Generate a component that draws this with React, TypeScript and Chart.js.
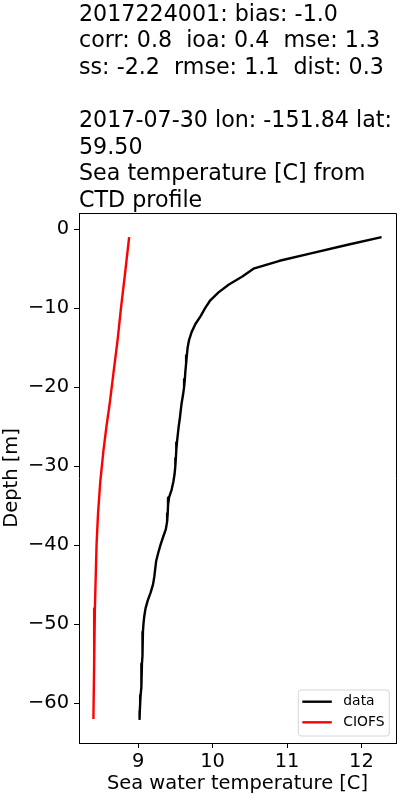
import React, { useEffect, useRef } from "react";
import { Chart, registerables } from "chart.js";

Chart.register(...registerables);

const FONT = "DejaVu Sans";

const titleLines = [
  "2017224001: bias: -1.0",
  "corr: 0.8  ioa: 0.4  mse: 1.3",
  "ss: -2.2  rmse: 1.1  dist: 0.3",
  "",
  "2017-07-30 lon: -151.84 lat:",
  "59.50",
  "Sea temperature [C] from",
  "CTD profile",
];

const xAxisTitle = "Sea water temperature [C]";
const yAxisTitle = "Depth [m]";
const xTickValues = [9, 10, 11, 12];
const yTickValues = [0, -10, -20, -30, -40, -50, -60];
const seriesNames = ["data", "CIOFS"];
const seriesColors = ["#000000", "#ff0000"];

const obsDepth = [
  -1, -2, -3, -4, -5, -6, -7, -8, -9, -10, -11, -12, -13, -14, -15, -16, -17, -18, -19, -20,
  -21, -22, -23, -24, -25, -26, -27, -28, -29, -30, -31, -32, -33, -34, -35, -36, -37, -38, -39, -40,
  -41, -42, -43, -44, -45, -46, -47, -48, -49, -50, -51, -52, -53, -54, -55, -56, -57, -58, -59, -60,
  -61, -62,
];
const obsTemp = [
  12.27, 11.8, 11.35, 10.9, 10.55, 10.4, 10.22, 10.08, 9.97, 9.9, 9.84, 9.77, 9.72, 9.685, 9.665, 9.655, 9.645, 9.635, 9.628, 9.618,
  9.603, 9.585, 9.572, 9.56, 9.545, 9.533, 9.522, 9.513, 9.507, 9.5, 9.49, 9.473, 9.45, 9.415, 9.402, 9.398, 9.39, 9.372, 9.335, 9.3,
  9.27, 9.243, 9.23, 9.218, 9.2, 9.168, 9.13, 9.1, 9.083, 9.072, 9.065, 9.062, 9.06, 9.055, 9.052, 9.048, 9.044, 9.04, 9.034, 9.028,
  9.023, 9.02,
];

const modelDepth = [-1, -6, -10, -14, -18, -22, -25, -28, -32, -36, -40, -48, -55, -62];
const modelTemp = [8.88, 8.82, 8.77, 8.725, 8.672, 8.62, 8.575, 8.535, 8.492, 8.462, 8.442, 8.42, 8.41, 8.4];

const fmt = (v: number) => (v < 0 ? "\u2212" + String(Math.abs(v)) : String(v));

export default function App() {
  const ref = useRef<HTMLCanvasElement | null>(null);

  useEffect(() => {
    const canvas = ref.current;
    if (!canvas) return;

    const allT = obsTemp.concat(modelTemp);
    const allD = obsDepth.concat(modelDepth);
    const tMin = Math.min(...allT), tMax = Math.max(...allT);
    const dMin = Math.min(...allD), dMax = Math.max(...allD);
    const tPad = (tMax - tMin) * 0.05;
    const dPad = (dMax - dMin) * 0.05;

    const decor = {
      id: "decor",
      afterDraw(chart: any) {
        const { ctx, chartArea } = chart;
        const { left, right, top, bottom } = chartArea;
        ctx.save();
        // frame (top / right spines)
        ctx.strokeStyle = "#000";
        ctx.lineWidth = 1;
        ctx.beginPath();
        ctx.moveTo(left, Math.round(top) + 0.5);
        ctx.lineTo(Math.round(right) + 0.5, Math.round(top) + 0.5);
        ctx.lineTo(Math.round(right) + 0.5, bottom);
        ctx.stroke();

        // title
        ctx.fillStyle = "#000";
        ctx.font = `22.2px "${FONT}"`;
        ctx.textAlign = "left";
        ctx.textBaseline = "alphabetic";
        titleLines.forEach((line, i) => {
          if (line) ctx.fillText(line, left, 20.8 + 26.6 * i);
        });

        // legend
        const bx = right - 97.7;
        const by = bottom - 53;
        const bw = 91;
        const bh = 46;
        const r = 3;
        ctx.beginPath();
        ctx.moveTo(bx + r, by);
        ctx.lineTo(bx + bw - r, by);
        ctx.quadraticCurveTo(bx + bw, by, bx + bw, by + r);
        ctx.lineTo(bx + bw, by + bh - r);
        ctx.quadraticCurveTo(bx + bw, by + bh, bx + bw - r, by + bh);
        ctx.lineTo(bx + r, by + bh);
        ctx.quadraticCurveTo(bx, by + bh, bx, by + bh - r);
        ctx.lineTo(bx, by + r);
        ctx.quadraticCurveTo(bx, by, bx + r, by);
        ctx.closePath();
        ctx.fillStyle = "rgba(255,255,255,0.8)";
        ctx.fill();
        ctx.strokeStyle = "rgba(204,204,204,0.8)";
        ctx.lineWidth = 1;
        ctx.stroke();

        ctx.font = `13.9px "${FONT}"`;
        ctx.textBaseline = "middle";
        seriesNames.forEach((name, i) => {
          const y = by + 11.7 + 20.6 * i;
          ctx.strokeStyle = seriesColors[i];
          ctx.lineWidth = 2.4;
          ctx.beginPath();
          ctx.moveTo(bx + 4, y);
          ctx.lineTo(bx + 33.5, y);
          ctx.stroke();
          ctx.fillStyle = "#000";
          ctx.fillText(name, bx + 45, y);
        });
        ctx.restore();
      },
    };

    const chart = new Chart(canvas, {
      type: "line",
      data: {
        datasets: [
          {
            label: seriesNames[0],
            data: obsDepth.map((d, i) => ({ x: obsTemp[i], y: d })),
            borderColor: seriesColors[0],
            backgroundColor: seriesColors[0],
            borderWidth: 2.4,
            pointRadius: 0,
            tension: 0,
            fill: false,
            borderJoinStyle: "round",
          },
          {
            label: seriesNames[1],
            data: modelDepth.map((d, i) => ({ x: modelTemp[i], y: d })),
            borderColor: seriesColors[1],
            backgroundColor: seriesColors[1],
            borderWidth: 2.4,
            pointRadius: 0,
            tension: 0,
            fill: false,
            borderJoinStyle: "round",
          },
        ],
      },
      options: {
        animation: false,
        responsive: false,
        devicePixelRatio: 1,
        layout: { padding: { top: 213, right: 4, left: 0, bottom: 0 } },
        plugins: {
          legend: { display: false },
          title: { display: false },
          tooltip: { enabled: false },
        },
        scales: {
          x: {
            type: "linear",
            position: "bottom",
            min: tMin - tPad,
            max: tMax + tPad,
            afterBuildTicks: (s: any) => {
              s.ticks = xTickValues.map((v) => ({ value: v }));
            },
            afterFit: (s: any) => {
              s.height = 57;
            },
            grid: {
              display: true,
              drawOnChartArea: false,
              drawTicks: true,
              tickLength: 5,
              tickColor: "#000",
              tickWidth: 1,
            },
            border: { display: true, color: "#000", width: 1 },
            ticks: {
              color: "#000",
              font: { family: FONT, size: 19.44 },
              padding: 2,
              maxRotation: 0,
              autoSkip: false,
              callback: (v: any) => fmt(Number(v)),
            },
            title: {
              display: true,
              text: xAxisTitle,
              color: "#000",
              font: { family: FONT, size: 19.44 },
              padding: { top: 0, bottom: 4 },
            },
          },
          y: {
            type: "linear",
            position: "left",
            min: dMin - dPad,
            max: dMax + dPad,
            afterBuildTicks: (s: any) => {
              s.ticks = yTickValues.map((v) => ({ value: v }));
            },
            afterFit: (s: any) => {
              s.width = 79;
            },
            grid: {
              display: true,
              drawOnChartArea: false,
              drawTicks: true,
              tickLength: 5,
              tickColor: "#000",
              tickWidth: 1,
            },
            border: { display: true, color: "#000", width: 1 },
            ticks: {
              color: "#000",
              font: { family: FONT, size: 19.44 },
              padding: 5,
              autoSkip: false,
              callback: (v: any) => fmt(Number(v)),
            },
            title: {
              display: true,
              text: yAxisTitle,
              color: "#000",
              font: { family: FONT, size: 19.44 },
              padding: { top: 0, bottom: 0 },
            },
          },
        },
      },
      plugins: [decor],
    } as any);

    return () => chart.destroy();
  }, []);

  return (
    <div style={{ position: "fixed", left: 0, top: 0, width: 400, height: 800, background: "#fff" }}>
      <canvas ref={ref} width={400} height={800} style={{ display: "block", width: 400, height: 800 }} />
    </div>
  );
}
